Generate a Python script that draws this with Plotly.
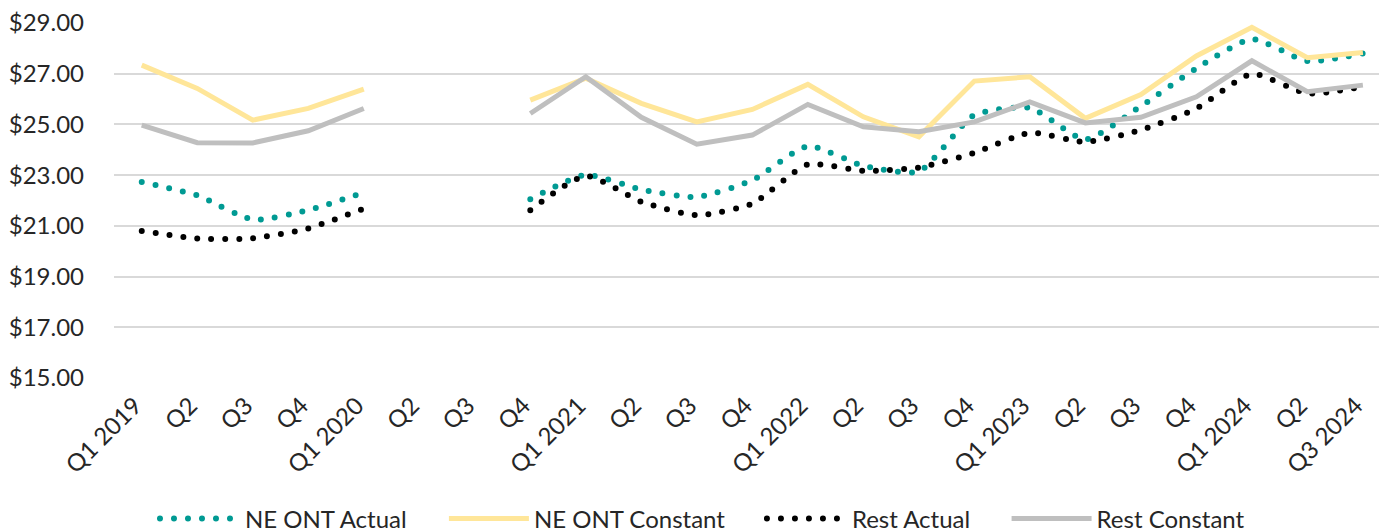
import plotly.graph_objects as go

# quarter keys (unique) and the labels shown under the axis
quarters = [
    "Q1 2019", "Q2 2019", "Q3 2019", "Q4 2019",
    "Q1 2020", "Q2 2020", "Q3 2020", "Q4 2020",
    "Q1 2021", "Q2 2021", "Q3 2021", "Q4 2021",
    "Q1 2022", "Q2 2022", "Q3 2022", "Q4 2022",
    "Q1 2023", "Q2 2023", "Q3 2023", "Q4 2023",
    "Q1 2024", "Q2 2024", "Q3 2024",
]
tick_labels = [
    "Q1 2019", "Q2", "Q3", "Q4",
    "Q1 2020", "Q2", "Q3", "Q4",
    "Q1 2021", "Q2", "Q3", "Q4",
    "Q1 2022", "Q2", "Q3", "Q4",
    "Q1 2023", "Q2", "Q3", "Q4",
    "Q1 2024", "Q2", "Q3 2024",
]

ne_ont_actual = [
    22.73, 22.20, 21.25, 21.62, 22.32, None, None, 22.05,
    23.01, 22.43, 22.14, 22.80, 24.14, 23.37, 23.15, 25.37,
    25.65, 24.41, 25.72, 27.21, 28.36, 27.50, 27.80,
]
ne_ont_constant = [
    27.34, 26.42, 25.17, 25.63, 26.39, None, None, 25.96,
    26.82, 25.83, 25.10, 25.59, 26.58, 25.30, 24.51, 26.71,
    26.88, 25.24, 26.18, 27.70, 28.83, 27.63, 27.84,
]
rest_actual = [
    20.80, 20.50, 20.51, 20.90, 21.68, None, None, 21.62,
    22.97, 21.95, 21.42, 21.88, 23.42, 23.17, 23.30, 23.88,
    24.67, 24.31, 24.78, 25.63, 26.99, 26.22, 26.49,
]
rest_constant = [
    24.97, 24.28, 24.27, 24.75, 25.63, None, None, 25.43,
    26.88, 25.28, 24.22, 24.58, 25.79, 24.91, 24.71, 25.10,
    25.89, 25.06, 25.28, 26.09, 27.51, 26.29, 26.55,
]

y_ticks = [15, 17, 19, 21, 23, 25, 27, 29]

TEAL = "#009a93"
YELLOW = "#ffe699"
BLACK = "#000000"
GREY = "#bfbfbf"
DOTS = "0px,14px"
FONT = "Lato, 'Noto Sans', sans-serif"
TEXT = "#262626"

fig = go.Figure()
fig.add_trace(go.Scatter(
    x=quarters, y=ne_ont_actual, name="NE ONT Actual", mode="lines", legend="legend",
    line=dict(color=TEAL, width=6, dash=DOTS, shape="spline", smoothing=0.6),
))
fig.add_trace(go.Scatter(
    x=quarters, y=ne_ont_constant, name="NE ONT Constant", mode="lines", legend="legend2",
    line=dict(color=YELLOW, width=5),
))
fig.add_trace(go.Scatter(
    x=quarters, y=rest_actual, name="Rest Actual", mode="lines", legend="legend3",
    line=dict(color=BLACK, width=6, dash=DOTS, shape="spline", smoothing=0.6),
))
fig.add_trace(go.Scatter(
    x=quarters, y=rest_constant, name="Rest Constant", mode="lines", legend="legend4",
    line=dict(color=GREY, width=5),
))

# one legend per entry so the entries sit where the original puts them
def leg(x):
    return dict(
        orientation="h", x=x, xanchor="left", y=-0.397, yanchor="middle",
        font=dict(family=FONT, size=24, color=TEXT), itemwidth=80,
        bgcolor="rgba(0,0,0,0)",
    )

fig.update_layout(
    width=1379,
    height=531,
    template="plotly_white",
    plot_bgcolor="white",
    paper_bgcolor="white",
    font=dict(family=FONT, size=24, color=TEXT),
    margin=dict(l=114, r=0, t=23, b=153, autoexpand=False),
    showlegend=True,
    legend=leg(0.0324),
    legend2=leg(0.2608),
    legend3=leg(0.5122),
    legend4=leg(0.7056),
    hovermode=False,
)
fig.update_xaxes(
    type="category",
    categoryorder="array",
    categoryarray=quarters,
    tickmode="array",
    tickvals=quarters,
    ticktext=tick_labels,
    tickangle=-45,
    range=[-0.5, 22.29],
    showgrid=False,
    zeroline=False,
    showline=False,
    ticks="",
    ticklabelshift=-7,
    ticklabelstandoff=8,
    automargin=False,
)
fig.update_yaxes(
    range=[15, 29],
    tickvals=y_ticks,
    tickformat="$.2f",
    showgrid=True,
    gridcolor="#d9d9d9",
    gridwidth=1.5,
    zeroline=False,
    showline=False,
    ticks="",
    ticklabelstandoff=29,
    automargin=False,
)

# no page margin, and round line caps turn the zero-length dashes into dots
post = """
document.body.style.margin = '0';
function roundDots(){
  document.querySelectorAll('path.js-line').forEach(function(p){
    var d = p.style.strokeDasharray || p.getAttribute('stroke-dasharray') || '';
    if (d.indexOf('0px') === 0 || d.indexOf('0,') === 0 || d.indexOf('0 ') === 0) {
      p.style.strokeLinecap = 'round';
    }
  });
}
roundDots();
var gd = document.getElementById('{plot_id}');
gd.on('plotly_afterplot', roundDots);
"""

fig.write_html("out.html", post_script=post, config={"displayModeBar": False})
